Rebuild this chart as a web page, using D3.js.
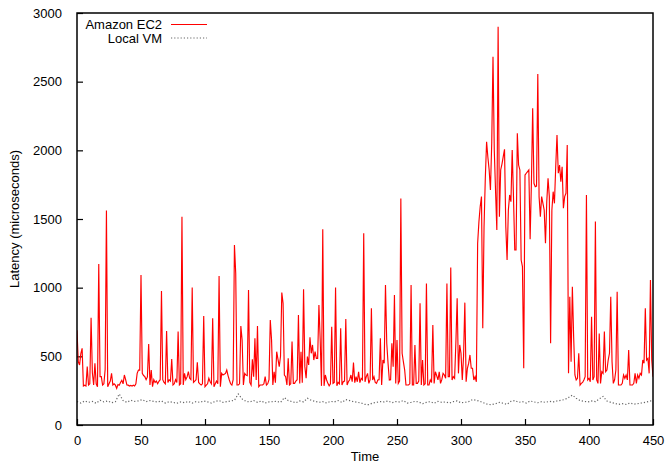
<!DOCTYPE html>
<html>
<head>
<meta charset="utf-8">
<script src="https://cdn.jsdelivr.net/npm/d3@7"></script>
<style>
  html, body { margin: 0; padding: 0; background: #fff; }
  svg { display: block; font-family: "Liberation Sans", Arial, Helvetica, sans-serif; }
</style>
</head>
<body>
<svg id="chart" width="667" height="466"></svg>
<script>
// Latency samples, one per time step (microseconds)
const ec2Latency = [
  690,460,437,520,558,284,290,284,425,291,300,781,380,291,449,300,279,1172,352,352,
  291,300,405,1561,279,300,320,376,291,300,290,267,295,290,310,325,300,364,330,291,
  290,284,288,284,290,284,300,376,400,400,1092,376,360,352,330,350,590,291,400,279,
  330,310,320,300,318,330,976,330,310,300,684,310,330,320,481,291,300,330,310,680,
  291,300,1517,291,376,330,350,388,340,330,1002,310,320,330,456,310,300,291,300,793,
  279,291,300,340,315,300,777,279,300,320,300,1085,279,376,364,370,376,400,360,328,
  300,291,330,1311,1104,291,291,300,721,619,291,376,364,360,983,310,291,478,352,631,
  328,721,279,291,291,291,300,352,291,300,330,765,619,291,388,308,534,480,425,500,
  964,886,364,352,291,485,291,300,607,303,303,320,330,801,303,534,308,988,425,340,
  498,437,638,522,583,473,534,485,485,874,619,285,1425,285,364,328,303,285,300,716,
  303,310,1002,285,310,300,704,291,315,320,772,291,315,330,364,315,454,308,352,315,
  388,308,340,330,1396,315,352,376,303,330,850,328,352,310,303,328,330,631,291,473,
  449,1019,595,449,328,330,595,425,946,303,619,303,320,1650,522,460,400,291,291,291,
  300,1019,291,291,583,303,303,320,886,291,473,291,300,1031,291,291,328,310,728,303,
  388,360,328,388,303,330,376,364,340,1031,352,352,1146,328,352,340,600,922,376,583,
  522,328,500,891,315,413,450,510,413,413,328,352,315,1323,1480,1590,1663,704,1444,1800,
  2063,1950,1857,1711,2051,2682,2002,1700,1420,2900,1517,1857,1900,1954,2007,1444,1201,1565,1675,1626,
  2002,1663,1274,1274,2124,1893,1857,1201,1153,413,1820,1833,1845,1857,1352,1760,2306,1760,1735,1740,
  2556,1663,1517,1663,1614,1565,1323,1626,1796,1663,595,1565,1699,1614,1881,2112,1833,1893,1772,1881,
  1578,1663,1687,2039,376,934,461,1007,643,364,328,340,522,291,303,310,328,352,1675,328,
  340,315,789,328,352,1481,328,303,667,303,388,376,680,388,400,473,522,934,461,303,
  328,400,971,291,291,291,303,364,340,364,328,546,291,291,291,303,376,303,364,340,
  376,364,473,449,850,473,485,376,1056,473,352
];
const ec2Time = ec2Latency.map((_, i) => i);

// Local VM samples, every third time step
const vmStep = 3;
const vmLatency = [
  170,160,175,165,172,158,180,168,175,162,170,
  226,178,165,180,172,176,185,170,178,172,
  168,175,160,170,165,158,168,162,172,160,
  170,165,175,168,160,172,178,165,170,175,
  180,226,190,172,168,178,165,175,160,168,
  170,172,165,200,178,170,162,175,168,195,
  180,172,165,170,160,172,168,178,165,185,
  178,170,165,160,150,148,160,165,170,168,
  175,162,170,168,178,160,165,172,168,155,
  165,170,158,172,165,168,160,170,175,162,
  165,170,185,180,172,160,150,148,155,165,
  158,150,172,178,165,170,160,175,168,162,
  170,165,172,168,175,180,185,200,218,195,
  178,172,168,175,170,190,208,175,165,158,
  150,155,150,160,152,155,160,165,172,180
];
const vmTime = vmLatency.map((_, i) => i * vmStep);

const xTicks = [0, 50, 100, 150, 200, 250, 300, 350, 400, 450];
const yTicks = [0, 500, 1000, 1500, 2000, 2500, 3000];
const seriesNames = ["Amazon EC2", "Local VM"];

const svg = d3.select("#chart");
const margin = { left: 77, right: 14, top: 13, bottom: 41 };
const W = 667, H = 466;
const x = d3.scaleLinear().domain([0, 450]).range([margin.left, W - margin.right]);
const y = d3.scaleLinear().domain([0, 3000]).range([H - margin.bottom, margin.top]);

const tickFont = 13;

// Bottom axis: inward ticks, labels below
const xAxis = d3.axisBottom(x).tickValues(xTicks).tickSize(-6).tickPadding(11).tickFormat(d3.format("d"));
const gx = svg.append("g").attr("transform", `translate(0,${y(0)})`).call(xAxis);
gx.select(".domain").remove();
gx.selectAll(".tick line").attr("stroke", "#000").attr("stroke-width", 1.2);
gx.selectAll(".tick text").attr("font-size", tickFont).attr("fill", "#000")
  .attr("font-family", "Liberation Sans, Arial, sans-serif");

// Left axis: inward ticks, labels right-aligned
const yAxis = d3.axisLeft(y).tickValues(yTicks).tickSize(-6).tickPadding(15).tickFormat(d3.format("d"));
const gy = svg.append("g").attr("transform", `translate(${x(0)},0)`).call(yAxis);
gy.select(".domain").remove();
gy.selectAll(".tick line").attr("stroke", "#000").attr("stroke-width", 1.2);
gy.selectAll(".tick text").attr("font-size", tickFont).attr("fill", "#000")
  .attr("font-family", "Liberation Sans, Arial, sans-serif");

// Series
const clip = svg.append("clipPath").attr("id", "plot-clip")
  .append("rect").attr("x", x(0)).attr("y", y(3000))
  .attr("width", x(450) - x(0)).attr("height", y(0) - y(3000));

const line = d3.line().x(d => x(d[0])).y(d => y(d[1]));

svg.append("path")
  .datum(vmTime.map((t, i) => [t, vmLatency[i]]))
  .attr("d", line)
  .attr("fill", "none")
  .attr("stroke", "#666")
  .attr("stroke-width", 1.2)
  .attr("stroke-dasharray", "1.2,2")
  .attr("clip-path", "url(#plot-clip)");

svg.append("path")
  .datum(ec2Time.map((t, i) => [t, ec2Latency[i]]))
  .attr("d", line)
  .attr("fill", "none")
  .attr("stroke", "#ff0000")
  .attr("stroke-width", 1.15)
  .attr("stroke-linejoin", "miter")
  .attr("clip-path", "url(#plot-clip)");

// Plot frame
svg.append("rect")
  .attr("x", x(0)).attr("y", y(3000))
  .attr("width", x(450) - x(0)).attr("height", y(0) - y(3000))
  .attr("fill", "none").attr("stroke", "#000").attr("stroke-width", 1.5);

// Legend
const legend = svg.append("g");
const legendStyles = [
  { stroke: "#ff0000", dash: null, width: 1.15 },
  { stroke: "#666", dash: "1.2,2", width: 1.2 }
];
seriesNames.forEach((name, i) => {
  const yy = 24.5 + i * 13.5;
  legend.append("text")
    .attr("x", 162).attr("y", yy + 4.5)
    .attr("text-anchor", "end")
    .attr("font-size", tickFont)
    .attr("fill", "#000")
    .text(name);
  legend.append("line")
    .attr("x1", 171).attr("x2", 207).attr("y1", yy).attr("y2", yy)
    .attr("stroke", legendStyles[i].stroke)
    .attr("stroke-width", legendStyles[i].width)
    .attr("stroke-dasharray", legendStyles[i].dash);
});

// Axis titles
svg.append("text")
  .attr("x", (x(0) + x(450)) / 2).attr("y", 461)
  .attr("text-anchor", "middle").attr("font-size", tickFont).attr("fill", "#000")
  .text("Time");

svg.append("text")
  .attr("transform", `translate(19,${(y(0) + y(3000)) / 2}) rotate(-90)`)
  .attr("text-anchor", "middle").attr("font-size", tickFont).attr("fill", "#000")
  .text("Latency (microseconds)");
</script>
</body>
</html>
